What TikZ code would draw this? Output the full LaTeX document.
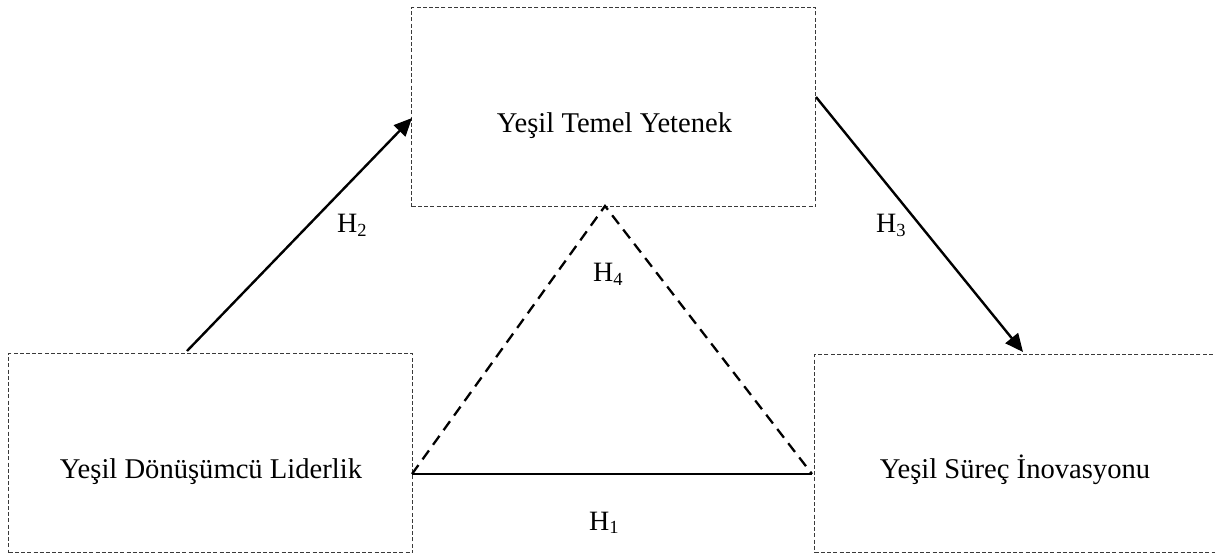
\documentclass[tikz,border=0pt]{standalone}
\usepackage{fontspec}
\setmainfont{Liberation Serif}
\usetikzlibrary{arrows.meta}
\definecolor{boxgray}{HTML}{3A3A3A}
\tikzset{
  boxframe/.style={draw=boxgray, line width=1.4pt, dash pattern=on 4pt off 2.2pt, inner sep=0pt, anchor=north west},
  boxtext/.style={anchor=base, inner sep=0pt, font=\fontsize{28.6}{33}\selectfont},
  hlabel/.style={anchor=base west, inner sep=0pt, font=\fontsize{28}{32}\selectfont},
  arr/.style={line width=2.4pt, -{Triangle[length=18pt,width=16pt]}},
  tri/.style={line width=2.3pt, dash pattern=on 11pt off 7pt},
  basel/.style={line width=2.3pt}
}
\newcommand{\hsub}[1]{H\raisebox{-0.13em}{\fontsize{18.5}{18.5}\selectfont #1}}
\begin{document}
\begin{tikzpicture}[x=1pt,y=-1pt]
\useasboundingbox (0,0) rectangle (1215,553);
% boxes
\node[boxframe, minimum width=404pt, minimum height=199pt] (T) at (411,7) {};
\node[boxframe, minimum width=404pt, minimum height=199pt] (L) at (8,353) {};
\node[boxframe, minimum width=410pt, minimum height=198pt] (R) at (814,354) {};
% texts
\node[boxtext] (tT) at (614.5,133) {Yeşil Temel Yetenek};
\node[boxtext] (tL) at (211,478) {Yeşil Dönüşümcü Liderlik};
\node[boxtext] (tR) at (1015,478) {Yeşil Süreç İnovasyonu};
% connector points
\coordinate (a2s) at (187,351);
\coordinate (a2e) at (412,118);
\coordinate (a3s) at (816,97);
\coordinate (a3e) at (1023,352);
\coordinate (apex) at (605,206);
\coordinate (bl) at (412,474);
\coordinate (br) at (812,474);
% arrows
\draw[arr] (a2s) -- (a2e);
\draw[arr] (a3s) -- (a3e);
% triangle
\draw[tri] (bl) -- (apex) -- (br);
\draw[basel] (bl) -- (br);
% labels
\node[hlabel] (h2) at (337,233) {\hsub{2}};
\node[hlabel] (h3) at (876,233) {\hsub{3}};
\node[hlabel] (h4) at (593,282) {\hsub{4}};
\node[hlabel] (h1) at (589,530) {\hsub{1}};
\end{tikzpicture}
\end{document}
